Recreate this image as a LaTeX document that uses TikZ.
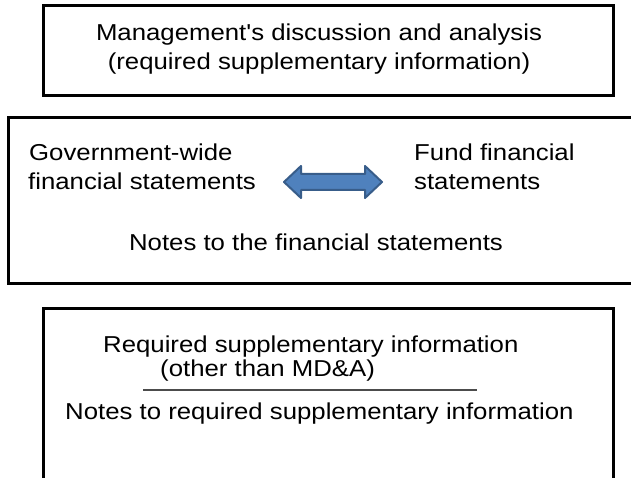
\documentclass[tikz,border=0pt]{standalone}
\usepackage{fontspec}
\newfontfamily\boxfont[FakeStretch=1.12]{Liberation Sans}
\usetikzlibrary{positioning}
\definecolor{arrowfill}{RGB}{79,129,189}
\definecolor{arrowline}{RGB}{56,93,138}

\begin{document}
\begin{tikzpicture}[x=1pt,y=-1pt,
  box/.style={line width=3pt},
  txt/.style={font=\boxfont\fontsize{23}{26}\selectfont,inner sep=0pt}]
  \clip (0,0) rectangle (631,478);
  % draw boxes
  \draw[box] (43,6) rectangle (613,96);
  \draw[box] (8,118) rectangle (650,283);
  \draw[box] (43,308) rectangle (613,500);
  % top box
  \node[txt,anchor=base] (mda) at (319,41) {Management's discussion and analysis};
  \node[txt,anchor=base] (mdasub) at (319,70) {(required supplementary information)};
  % middle box
  \node[txt,anchor=base west] (gov) at (29,161) {Government-wide};
  \node[txt,anchor=base west] (govfs) at (28,190) {financial statements};
  \node[txt,anchor=base west] (fund) at (414,161) {Fund financial};
  \node[txt,anchor=base west] (fundfs) at (414,190) {statements};
  \node[txt,anchor=base] (notes) at (316,251) {Notes to the financial statements};
  % draw double arrow
  \draw[arrowline,fill=arrowfill,line width=2pt,line join=round]
    (284,182) -- (301,166) -- (301,174) -- (365,174) -- (365,166)
    -- (382,182) -- (365,198) -- (365,190) -- (301,190) -- (301,198) -- cycle;
  % bottom box
  \node[txt,anchor=base west] (rsi) at (103,352) {Required supplementary information};
  \node[txt,anchor=base west] (other) at (160,376) {(other than MD\&A)};
  \coordinate (rulea) at (143,390);
  \coordinate (ruleb) at (477,390);
  \draw[black!70,line width=1.2pt] (rulea) -- (ruleb); % row of underscores
  \node[txt,anchor=base west] (rsinotes) at (65,419) {Notes to required supplementary information};
\end{tikzpicture}
\end{document}
